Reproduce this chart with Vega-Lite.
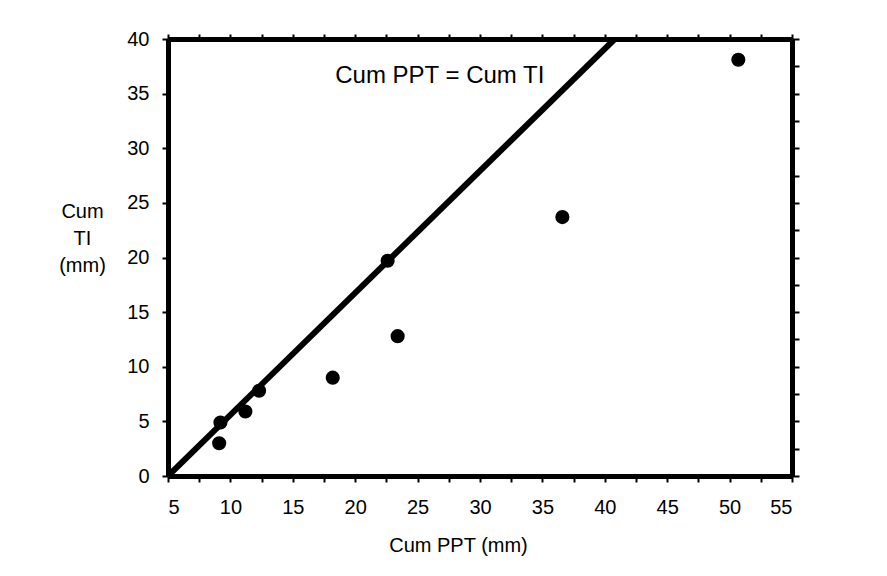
{
  "$schema": "https://vega.github.io/schema/vega-lite/v6.json",
  "width": 624,
  "height": 437,
  "autosize": {"type": "none"},
  "padding": {"left": 168, "top": 39, "right": 95, "bottom": 100},
  "background": "white",
  "config": {
    "view": {"stroke": null},
    "font": "Liberation Sans",
    "axis": {"grid": false, "domainColor": "black", "domainWidth": 5, "tickColor": "black", "tickWidth": 2, "labelColor": "black", "titleColor": "black", "labelFont": "Liberation Sans", "titleFont": "Liberation Sans", "labelFontWeight": "normal", "titleFontWeight": "normal"}
  },
  "datasets": {
    "line": [
      {"ppt": 5, "ti": 0},
      {"ppt": 40.8, "ti": 40}
    ],
    "obs": [
      {"ppt": 9.2, "ti": 4.9},
      {"ppt": 9.1, "ti": 3.0},
      {"ppt": 11.2, "ti": 5.9},
      {"ppt": 12.3, "ti": 7.8},
      {"ppt": 18.2, "ti": 9.0},
      {"ppt": 22.6, "ti": 19.7},
      {"ppt": 23.4, "ti": 12.8},
      {"ppt": 36.6, "ti": 23.7},
      {"ppt": 50.7, "ti": 38.1}
    ],
    "note": [
      {"ppt": 18.4, "ti": 36.6, "label": "Cum PPT = Cum TI"}
    ]
  },
  "layer": [
    {
      "data": {"name": "line"},
      "mark": {"type": "line", "color": "black", "strokeWidth": 6, "clip": true},
      "encoding": {
        "x": {
          "field": "ppt", "type": "quantitative",
          "scale": {"domain": [5, 55], "nice": false, "zero": false},
          "axis": {
            "orient": "bottom",
            "values": [5, 7.5, 10, 12.5, 15, 17.5, 20, 22.5, 25, 27.5, 30, 32.5, 35, 37.5, 40, 42.5, 45, 47.5, 50, 52.5, 55],
            "labelExpr": "datum.value % 5 == 0 ? datum.label : ''",
            "tickSize": 6, "labelPadding": 15, "labelFontSize": 20,
            "title": "Cum PPT (mm)", "titleFontSize": 20,
            "titleX": 290, "titleY": 69, "titleBaseline": "middle", "titleAlign": "center"
          }
        },
        "y": {
          "field": "ti", "type": "quantitative",
          "scale": {"domain": [0, 40], "nice": false},
          "axis": {
            "orient": "left",
            "values": [0, 5, 10, 15, 20, 25, 30, 35, 40],
            "tickSize": 6, "labelPadding": 13, "labelFontSize": 20,
            "title": ["Cum", "TI", "(mm)"], "titleFontSize": 20, "titleAngle": 0,
            "titleLineHeight": 27,
            "titleX": -86, "titleY": 172, "titleBaseline": "middle", "titleAlign": "center"
          }
        }
      }
    },
    {
      "data": {"name": "obs"},
      "mark": {"type": "point", "filled": true, "color": "black", "opacity": 1, "size": 200},
      "encoding": {
        "x": {
          "field": "ppt", "type": "quantitative",
          "scale": {"domain": [5, 55], "nice": false, "zero": false},
          "axis": {
            "orient": "top",
            "values": [5, 7.5, 10, 12.5, 15, 17.5, 20, 22.5, 25, 27.5, 30, 32.5, 35, 37.5, 40, 42.5, 45, 47.5, 50, 52.5, 55],
            "labels": false, "tickSize": 5, "title": null
          }
        },
        "y": {
          "field": "ti", "type": "quantitative",
          "scale": {"domain": [0, 40], "nice": false},
          "axis": {
            "orient": "right",
            "values": [0, 2.5, 5, 7.5, 10, 12.5, 15, 17.5, 20, 22.5, 25, 27.5, 30, 32.5, 35, 37.5, 40],
            "labels": false, "tickSize": 7, "title": null
          }
        }
      }
    },
    {
      "data": {"name": "note"},
      "mark": {"type": "text", "align": "left", "baseline": "middle", "fontSize": 24, "color": "black", "font": "Liberation Sans"},
      "encoding": {
        "x": {"field": "ppt", "type": "quantitative", "axis": null},
        "y": {"field": "ti", "type": "quantitative", "axis": null},
        "text": {"field": "label"}
      }
    }
  ],
  "resolve": {"axis": {"x": "independent", "y": "independent"}}
}
